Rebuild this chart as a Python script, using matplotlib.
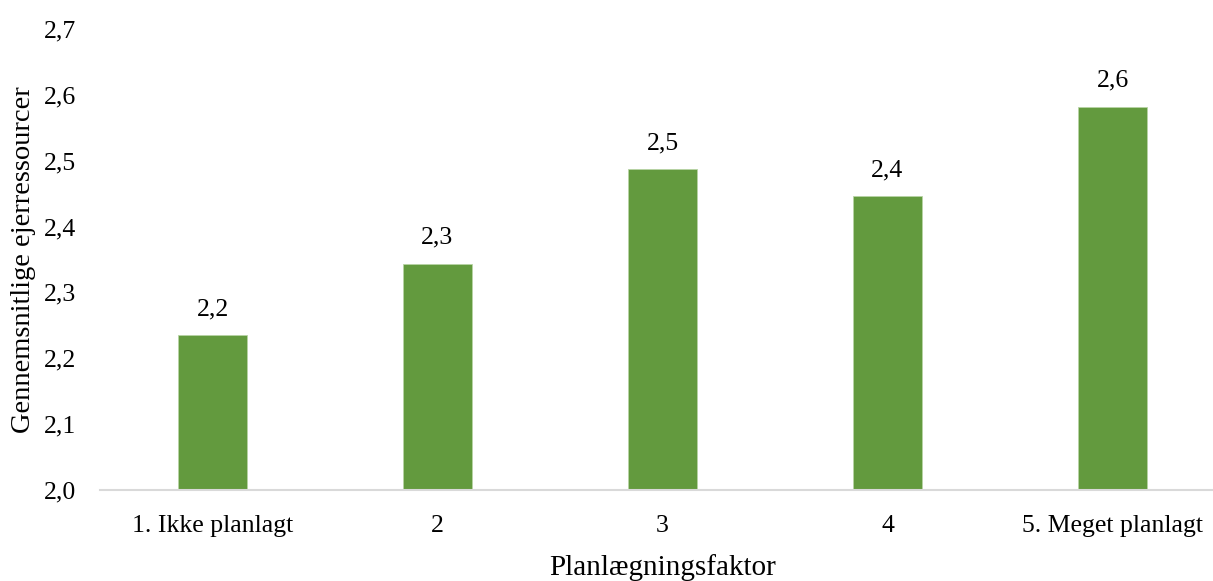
import matplotlib
matplotlib.use("Agg")
import matplotlib.pyplot as plt
from matplotlib.ticker import FuncFormatter

categories = ["1. Ikke planlagt", "2", "3", "4", "5. Meget planlagt"]
values = [2.235, 2.343, 2.487, 2.446, 2.582]
yticks = [2.0, 2.1, 2.2, 2.3, 2.4, 2.5, 2.6, 2.7]

plt.rcParams['font.family'] = ['Liberation Serif', 'DejaVu Serif']

fig = plt.figure(figsize=(12.13, 5.81), dpi=100)
ax = fig.add_axes([100/1213, 91/581, 1125/1213, 461/581])

x = list(range(len(categories)))
bars = ax.bar(x, values, width=0.31, color='#639A3E', edgecolor='#B8D4A5', linewidth=0.6, zorder=2)

ax.set_xlim(-0.5, len(categories) - 0.5)
ax.set_ylim(2.0, 2.7)
ax.set_yticks(yticks)
ax.yaxis.set_major_formatter(FuncFormatter(lambda v, p: f"{v:.1f}".replace('.', ',')))
ax.set_xticks(x)
ax.set_xticklabels(categories)

for s in ['top', 'right', 'left']:
    ax.spines[s].set_visible(False)
ax.spines['bottom'].set_color('#D9D9D9')
ax.spines['bottom'].set_linewidth(1.5)
ax.tick_params(axis='both', length=0, labelsize=18.5, colors='black')
ax.tick_params(axis='y', pad=17)
ax.tick_params(axis='x', pad=18)

for xi, v in zip(x, values):
    ax.annotate(f"{v:.1f}".replace('.', ','), (xi, v), xytext=(0, 11), textcoords='offset points',
                ha='center', va='bottom', fontsize=18.5)

ax.set_xlabel("Planlægningsfaktor", fontsize=21, labelpad=12)
ax.set_ylabel("Gennemsnitlige ejerressourcer", fontsize=20.5, labelpad=6)

fig.savefig("out.png", dpi=100)
